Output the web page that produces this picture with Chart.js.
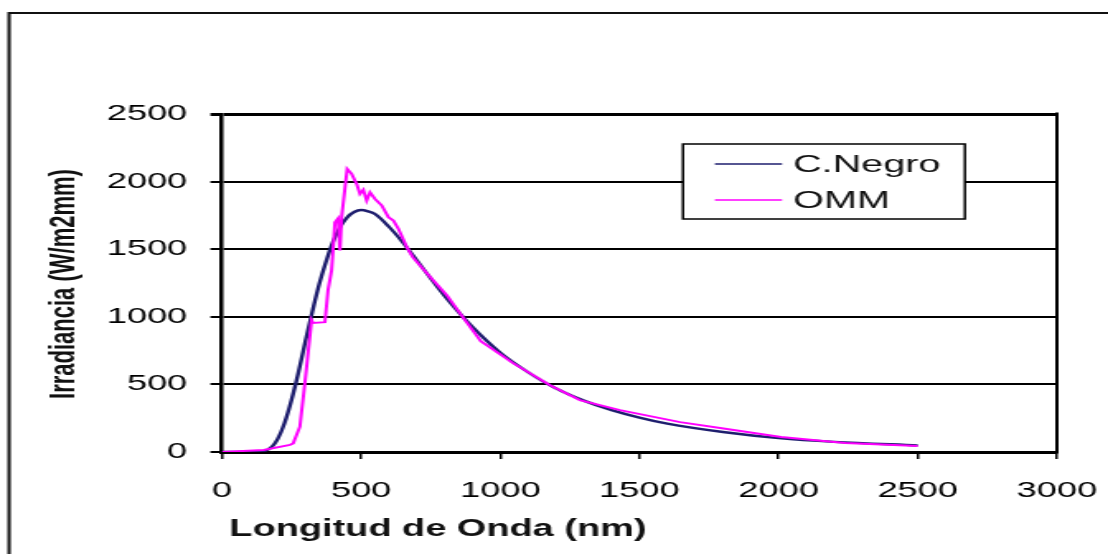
<!DOCTYPE html>
<html>
<head>
<meta charset="utf-8">
<script src="https://cdn.jsdelivr.net/npm/chart.js@4"></script>
<style>
  html, body { margin: 0; padding: 0; background: #fff; }
</style>
</head>
<body>
<!-- drawn on a narrower canvas and stretched to 1108px, like the reference -->
<canvas id="chart" width="672" height="554" style="width:1108px;height:554px"></canvas>
<script>
// ─── Data ────────────────────────────────────────────────────────
const nmNegro  = [0, 100, 150, 180, 200, 225, 250, 275, 300, 325, 350, 375, 400, 425, 450, 475, 500,
                  525, 550, 600, 650, 700, 800, 900, 1000, 1100, 1200, 1300, 1400, 1500, 1600, 1800,
                  2000, 2200, 2500];
const irrNegro = [0, 0, 6, 40, 95, 215, 385, 590, 820, 1040, 1245, 1415, 1560, 1665, 1736, 1775, 1790,
                  1780, 1760, 1666, 1550, 1418, 1155, 925, 735, 590, 470, 380, 310, 255, 210, 148,
                  103, 75, 49];

const nmOMM  = [0, 150, 244, 256, 280, 298, 322, 327, 370, 381, 394, 406, 417, 424, 430, 450, 466,
                484, 496, 508, 520, 532, 550, 574, 598, 616, 634, 665, 686, 750, 808, 866, 930,
                1046, 1179, 1286, 1430, 1646, 1790, 2009, 2239, 2500];
const irrOMM = [0, 15, 52, 64, 187, 509, 974, 955, 960, 1195, 1343, 1700, 1727, 1491, 1737, 2094, 2057,
                1983, 1909, 1939, 1860, 1921, 1872, 1823, 1737, 1712, 1651, 1513, 1439, 1290, 1160, 996, 820,
                657, 494, 384, 310, 221, 177, 111, 66, 44];

const seriesLabels = ["C.Negro", "OMM"];
const xTitle = "Longitud de Onda (nm)";
const yTitle = "Irradiancia (W/m2mm)";

// ─── Config ──────────────────────────────────────────────────────
const FONT = 'Arial, "Liberation Sans", sans-serif';
const NAVY = "#1e1e6e";
const MAGENTA = "#ff00ff";

const toPoints = (xs, ys) => xs.map((x, i) => ({ x, y: ys[i] }));

// frame, titles, legend and outer border
const decor = {
  id: "decor",
  beforeDatasetsDraw(chart) {
    const { ctx, chartArea: a } = chart;
    ctx.save();
    ctx.strokeStyle = "#000";
    ctx.lineWidth = 2;
    ctx.beginPath();
    ctx.moveTo(a.right, a.top - 1.5);
    ctx.lineTo(a.right, a.bottom + 1.5);
    ctx.stroke();
    ctx.restore();
  },
  afterDraw(chart) {
    const { ctx } = chart;
    ctx.save();

    // outer border (left + top)
    ctx.strokeStyle = "#111";
    ctx.lineWidth = 2;
    ctx.beginPath();
    ctx.moveTo(672, 13);
    ctx.lineTo(5.5, 13);
    ctx.lineTo(5.5, 554);
    ctx.stroke();

    // axis titles
    ctx.fillStyle = "#111";
    ctx.font = `bold 23px ${FONT}`;
    ctx.textAlign = "center";
    ctx.textBaseline = "middle";
    ctx.fillText(xTitle, 265.6, 530);

    ctx.save();
    ctx.translate(39.4, 284);
    ctx.rotate(-Math.PI / 2);
    ctx.font = `bold 22px ${FONT}`;
    ctx.fillText(yTitle, 0, 0);
    ctx.restore();

    // legend
    const bx = 414.2, by = 144, bw = 171, bh = 75;
    ctx.fillStyle = "#fff";
    ctx.fillRect(bx, by, bw, bh);
    ctx.strokeStyle = "#000";
    ctx.lineWidth = 1.5;
    ctx.strokeRect(bx, by, bw, bh);

    ctx.font = `24px ${FONT}`;
    ctx.textAlign = "left";
    ctx.textBaseline = "middle";
    chart.data.datasets.forEach((ds, i) => {
      const y = by + 20 + i * 36;
      ctx.strokeStyle = ds.borderColor;
      ctx.lineWidth = 1.5;
      ctx.beginPath();
      ctx.moveTo(433.6, y);
      ctx.lineTo(474.3, y);
      ctx.stroke();
      ctx.fillStyle = "#111";
      ctx.fillText(ds.label, 481, y + 1);
    });

    ctx.restore();
  },
};

// ─── Chart ───────────────────────────────────────────────────────
const ctx = document.getElementById("chart").getContext("2d");

new Chart(ctx, {
  type: "line",
  data: {
    datasets: [
      {
        label: seriesLabels[0],
        data: toPoints(nmNegro, irrNegro),
        borderColor: NAVY,
        borderWidth: 2.4,
        pointRadius: 0,
        cubicInterpolationMode: "monotone",
        order: 1,
      },
      {
        label: seriesLabels[1],
        data: toPoints(nmOMM, irrOMM),
        borderColor: MAGENTA,
        borderWidth: 2,
        pointRadius: 0,
        tension: 0,
        order: 0,
      },
    ],
  },
  options: {
    responsive: false,
    animation: false,
    devicePixelRatio: 1,
    layout: { padding: { left: 0, right: 31, top: 114, bottom: 0 } },
    plugins: { legend: { display: false }, tooltip: { enabled: false } },
    scales: {
      x: {
        type: "linear",
        min: 0,
        max: 3000,
        ticks: {
          stepSize: 500, padding: 19, color: "#000", maxRotation: 0,
          font: { family: FONT, size: 22 },
          callback: (v) => String(v),
        },
        grid: { drawOnChartArea: false, color: "#000", lineWidth: 1.5, tickLength: 7 },
        border: { color: "#000", width: 3 },
        afterFit: (s) => {
          s.height = 102;
          s.paddingRight = 20;
          s.paddingLeft = 0;
        },
      },
      y: {
        min: 0,
        max: 2500,
        ticks: {
          stepSize: 500, padding: 14, color: "#000",
          font: { family: FONT, size: 22 },
          callback: (v) => String(v),
        },
        grid: {
          color: "#000",
          lineWidth: (c) => (c.tick && c.tick.value === 2500 ? 3 : 2),
          tickLength: 7,
        },
        border: { color: "#000", width: 2.5 },
        afterFit: (s) => { s.width = 134.6; },
      },
    },
  },
  plugins: [decor],
});
</script>
</body>
</html>
